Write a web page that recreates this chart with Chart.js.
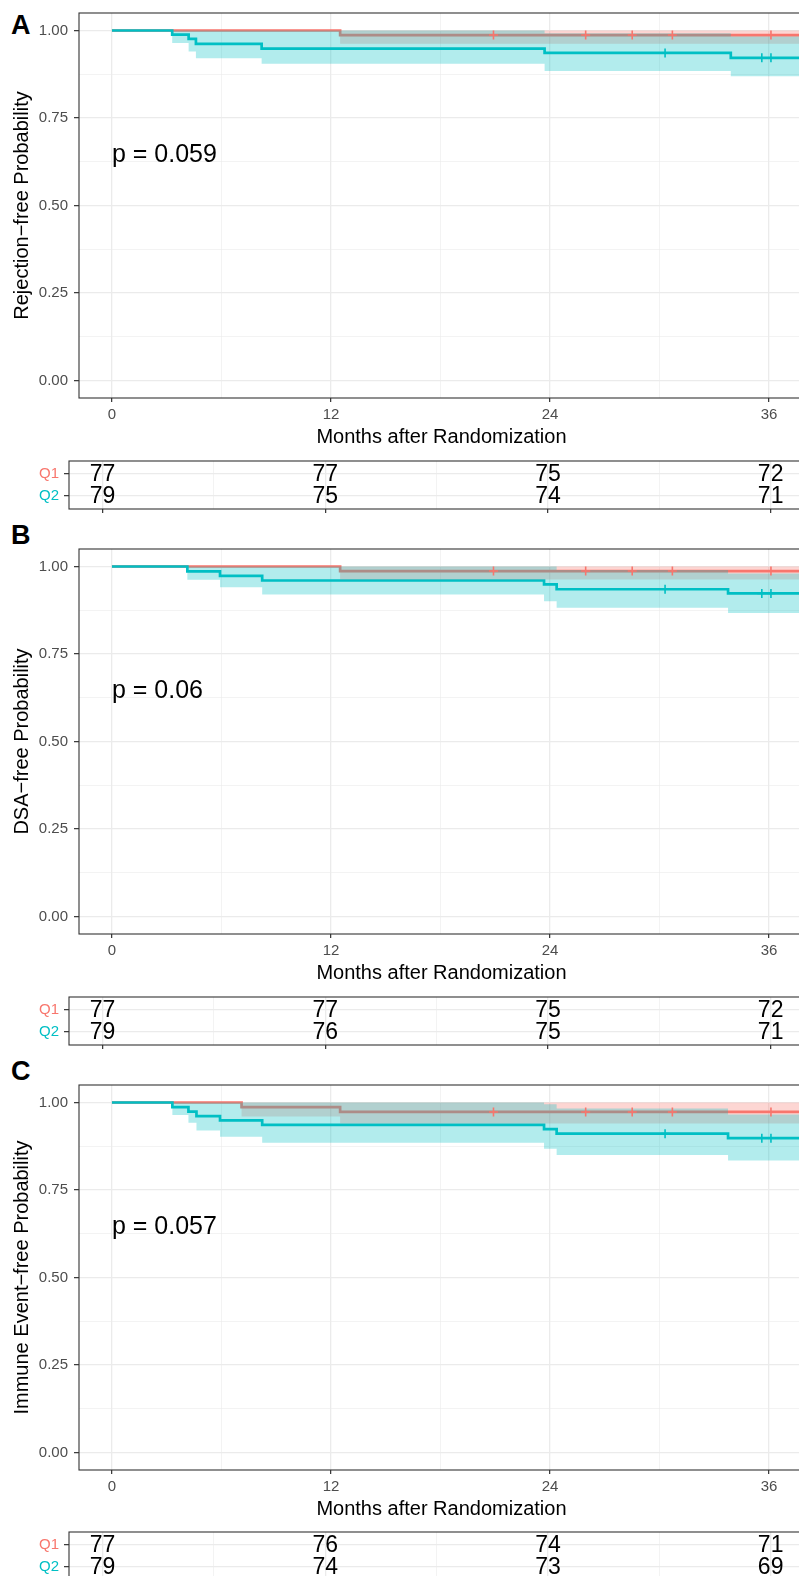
<!DOCTYPE html>
<html><head><meta charset="utf-8">
<script src="https://cdn.jsdelivr.net/npm/chart.js@4.4.1/dist/chart.umd.min.js"></script>
<style>
html,body{margin:0;padding:0;background:#fff;overflow:hidden;width:799px;height:1576px;}
.wrap{position:absolute;left:0;}
canvas{display:block;}
.lbl{position:absolute;left:11px;font:bold 27px "Liberation Sans",Arial,sans-serif;line-height:27px;color:#000;}
</style></head><body>
<div class="lbl" style="top:12px">A</div>
<div class="lbl" style="top:522px">B</div>
<div class="lbl" style="top:1058px">C</div>
<div class="wrap" style="top:-5px"><canvas id="kmA" width="810" height="457"></canvas></div>
<div class="wrap" style="top:446px"><canvas id="rtA" width="810" height="78"></canvas></div>
<div class="wrap" style="top:531px"><canvas id="kmB" width="810" height="457"></canvas></div>
<div class="wrap" style="top:982px"><canvas id="rtB" width="810" height="78"></canvas></div>
<div class="wrap" style="top:1067px"><canvas id="kmC" width="810" height="457"></canvas></div>
<div class="wrap" style="top:1517px"><canvas id="rtC" width="810" height="78"></canvas></div>
<script>
// ---------- data ----------
const groups = ['Q1', 'Q2'];
const xTitle = 'Months after Randomization';
const yTitles = ['Rejection\u2212free Probability', 'DSA\u2212free Probability', 'Immune Event\u2212free Probability'];
const pValues = ['p = 0.059', 'p = 0.06', 'p = 0.057'];
const xTicks = [0, 6, 12, 18, 24, 30, 36];
const xMajor = [0, 12, 24, 36];
const yTicks = [0, 0.125, 0.25, 0.375, 0.5, 0.625, 0.75, 0.875, 1];
const yMajor = [0, 0.25, 0.5, 0.75, 1];
const riskTimes = [0, 12, 24, 36];

// censoring times (months)
const censorQ1 = [20.9, 25.95, 28.5, 30.7, 36.1];
const censorQ2 = [30.3, 35.6, 36.1];

// Panel A (curves continue past the visible right edge)
const timeA_Q1 = [0, 12.5, 38];
const survA_Q1 = [1, 0.987, 0.987];
const lowA_Q1  = [1, 0.962, 0.962];
const uppA_Q1  = [1, 1, 1];
const timeA_Q2 = [0, 3.3, 4.2, 4.6, 8.2, 23.7, 33.9, 38];
const survA_Q2 = [1, 0.988, 0.976, 0.962, 0.948, 0.936, 0.922, 0.922];
const lowA_Q2  = [1, 0.964, 0.940, 0.921, 0.905, 0.884, 0.869, 0.869];
const uppA_Q2  = [1, 1, 1, 1, 1, 0.992, 0.983, 0.983];
const riskA_Q1 = [77, 77, 75, 72];
const riskA_Q2 = [79, 75, 74, 71];

// Panel B
const timeB_Q1 = [0, 12.5, 38];
const survB_Q1 = [1, 0.987, 0.987];
const lowB_Q1  = [1, 0.963, 0.963];
const uppB_Q1  = [1, 1, 1];
const timeB_Q2 = [0, 4.13, 5.92, 8.23, 23.67, 24.36, 33.75, 38];
const survB_Q2 = [1, 0.986, 0.973, 0.960, 0.949, 0.935, 0.923, 0.923];
const lowB_Q2  = [1, 0.962, 0.941, 0.920, 0.901, 0.882, 0.867, 0.867];
const uppB_Q2  = [1, 1, 1, 1, 1, 0.990, 0.980, 0.980];
const riskB_Q1 = [77, 77, 75, 72];
const riskB_Q2 = [79, 76, 75, 71];

// Panel C
const timeC_Q1 = [0, 7.1, 12.5, 38];
const survC_Q1 = [1, 0.987, 0.973, 0.973];
const lowC_Q1  = [1, 0.960, 0.940, 0.940];
const uppC_Q1  = [1, 1, 1, 1];
const timeC_Q2 = [0, 3.31, 4.19, 4.63, 5.92, 8.23, 23.67, 24.36, 33.75, 38];
const survC_Q2 = [1, 0.987, 0.974, 0.961, 0.949, 0.936, 0.924, 0.911, 0.898, 0.898];
const lowC_Q2  = [1, 0.964, 0.942, 0.920, 0.902, 0.885, 0.868, 0.850, 0.834, 0.834];
const uppC_Q2  = [1, 1, 1, 1, 1, 1, 0.995, 0.983, 0.966, 0.966];
const riskC_Q1 = [77, 76, 74, 71];
const riskC_Q2 = [79, 74, 73, 69];

// ---------- style ----------
const SALMON = '#F8766D', TEAL = '#00BFC4';
const SALMON_BAND = 'rgba(248,118,109,0.3)', TEAL_BAND = 'rgba(0,191,196,0.3)';
const FONT = '"Liberation Sans", Arial, Helvetica, sans-serif';
const X_MIN = -1.805, X_MAX = 37.905;
const GRID = '#ebebeb';

function pts(t, v) { return t.map((x, i) => ({x: x, y: v[i]})); }
function stepAt(t, v, x) { let y = v[0]; for (let i = 0; i < t.length; i++) { if (t[i] <= x) y = v[i]; } return y; }

const framePlugin = {
  id: 'frame',
  afterDraw(chart) {
    const a = chart.chartArea, ctx = chart.ctx;
    ctx.save(); ctx.strokeStyle = '#333'; ctx.lineWidth = 1.1;
    ctx.strokeRect(a.left, a.top, a.right - a.left, a.bottom - a.top);
    ctx.restore();
  }
};

function kmChart(id, d) {
  const c1 = censorQ1.map(t => ({x: t, y: stepAt(d.t1, d.s1, t)}));
  const c2 = censorQ2.map(t => ({x: t, y: stepAt(d.t2, d.s2, t)}));
  const line = (data, color, order) => ({type: 'line', data, borderColor: color, borderWidth: 2.7, stepped: true, pointRadius: 0, fill: false, order});
  const band = (data, fill, color, order) => ({type: 'line', data, borderColor: 'rgba(0,0,0,0)', borderWidth: 0, stepped: true, pointRadius: 0, fill: fill, backgroundColor: color, order});
  const cens = (data, color) => ({type: 'line', data, showLine: false, pointStyle: 'cross', pointRadius: 4.5, pointBorderWidth: 1.6, pointBorderColor: color, pointBackgroundColor: color, order: 1});
  new Chart(document.getElementById(id), {
    type: 'line',
    data: { datasets: [
      line(pts(d.t1, d.s1), SALMON, 9),
      line(pts(d.t2, d.s2), TEAL, 8),
      band(pts(d.t1, d.up1), '+1', SALMON_BAND, 7),
      band(pts(d.t1, d.lo1), false, SALMON_BAND, 7),
      band(pts(d.t2, d.up2), '+1', TEAL_BAND, 6),
      band(pts(d.t2, d.lo2), false, TEAL_BAND, 6),
      cens(c1, SALMON),
      cens(c2, TEAL)
    ]},
    options: {
      responsive: false, animation: false, devicePixelRatio: 1, events: [],
      layout: { padding: { top: 18, right: 4, left: 0, bottom: 0 } },
      plugins: { legend: { display: false }, tooltip: { enabled: false } },
      scales: {
        x: {
          type: 'linear', min: X_MIN, max: X_MAX,
          afterBuildTicks: s => { s.ticks = xTicks.map(v => ({value: v})); },
          afterFit: s => { s.height = 54; },
          ticks: { autoSkip: false, maxRotation: 0, padding: 4, color: '#4d4d4d', font: {family: FONT, size: 15},
                   callback: v => xMajor.includes(v) ? String(v) : '' },
          grid: { color: GRID, lineWidth: c => (c.tick && xMajor.includes(c.tick.value)) ? 1.3 : 0.6,
                  tickColor: c => (c.tick && xMajor.includes(c.tick.value)) ? '#333' : 'rgba(0,0,0,0)', tickLength: 4, tickWidth: 1.2 },
          border: { display: false },
          title: { display: true, text: xTitle, color: '#000', font: {family: FONT, size: 20}, padding: {top: 0, bottom: 3} }
        },
        y: {
          type: 'linear', min: -0.05, max: 1.05,
          afterBuildTicks: s => { s.ticks = yTicks.map(v => ({value: v})); },
          afterFit: s => { s.width = 79; },
          ticks: { autoSkip: false, padding: 6, color: '#4d4d4d', font: {family: FONT, size: 15},
                   callback: v => yMajor.includes(v) ? v.toFixed(2) : '' },
          grid: { color: GRID, lineWidth: c => (c.tick && yMajor.includes(c.tick.value)) ? 1.3 : 0.6,
                  tickColor: c => (c.tick && yMajor.includes(c.tick.value)) ? '#333' : 'rgba(0,0,0,0)', tickLength: 5, tickWidth: 1.2 },
          border: { display: false },
          title: { display: true, text: d.title, color: '#000', font: {family: FONT, size: 20}, padding: {top: 10, bottom: 0} }
        }
      }
    },
    plugins: [framePlugin, {
      id: 'pval',
      afterDatasetsDraw(chart) {
        const ctx = chart.ctx;
        ctx.save(); ctx.fillStyle = '#000'; ctx.font = '25px ' + FONT; ctx.textAlign = 'left'; ctx.textBaseline = 'middle';
        ctx.fillText(d.p, chart.scales.x.getPixelForValue(0), chart.scales.y.getPixelForValue(0.645));
        ctx.restore();
      }
    }]
  });
}

function riskChart(id, r1, r2) {
  const rows = [2, 1];
  new Chart(document.getElementById(id), {
    type: 'line',
    data: { datasets: [
      {data: riskTimes.map((t, i) => ({x: t, y: rows[0], n: r1[i]})), showLine: false, pointRadius: 0},
      {data: riskTimes.map((t, i) => ({x: t, y: rows[1], n: r2[i]})), showLine: false, pointRadius: 0}
    ]},
    options: {
      responsive: false, animation: false, devicePixelRatio: 1, events: [],
      layout: { padding: { top: 15, right: 4, left: 0, bottom: 0 } },
      plugins: { legend: { display: false }, tooltip: { enabled: false } },
      scales: {
        x: {
          type: 'linear', min: X_MIN, max: X_MAX,
          afterBuildTicks: s => { s.ticks = xTicks.map(v => ({value: v})); },
          afterFit: s => { s.height = 15; },
          ticks: { display: false },
          grid: { color: GRID, lineWidth: c => (c.tick && xMajor.includes(c.tick.value)) ? 1.3 : 0.6,
                  tickColor: c => (c.tick && xMajor.includes(c.tick.value)) ? '#333' : 'rgba(0,0,0,0)', tickLength: 4, tickWidth: 1.2 },
          border: { display: false }
        },
        y: {
          type: 'linear', min: 0.4, max: 2.6,
          afterBuildTicks: s => { s.ticks = rows.map(v => ({value: v})); },
          afterFit: s => { s.width = 69; },
          ticks: { autoSkip: false, padding: 5, font: {family: FONT, size: 15},
                   color: c => (c.tick && c.tick.value === rows[0]) ? SALMON : TEAL,
                   callback: v => groups[rows.indexOf(v)] },
          grid: { color: GRID, lineWidth: 1.3, tickColor: '#333', tickLength: 5, tickWidth: 1.2 },
          border: { display: false }
        }
      }
    },
    plugins: [framePlugin, {
      id: 'risklabels',
      afterDatasetsDraw(chart) {
        const ctx = chart.ctx;
        ctx.save(); ctx.fillStyle = '#000'; ctx.font = '23px ' + FONT; ctx.textAlign = 'center'; ctx.textBaseline = 'middle';
        chart.data.datasets.forEach((ds, di) => {
          chart.getDatasetMeta(di).data.forEach((el, i) => { ctx.fillText(String(ds.data[i].n), el.x, el.y + 1); });
        });
        ctx.restore();
      }
    }]
  });
}

kmChart('kmA', {t1: timeA_Q1, s1: survA_Q1, lo1: lowA_Q1, up1: uppA_Q1, t2: timeA_Q2, s2: survA_Q2, lo2: lowA_Q2, up2: uppA_Q2, title: yTitles[0], p: pValues[0]});
kmChart('kmB', {t1: timeB_Q1, s1: survB_Q1, lo1: lowB_Q1, up1: uppB_Q1, t2: timeB_Q2, s2: survB_Q2, lo2: lowB_Q2, up2: uppB_Q2, title: yTitles[1], p: pValues[1]});
kmChart('kmC', {t1: timeC_Q1, s1: survC_Q1, lo1: lowC_Q1, up1: uppC_Q1, t2: timeC_Q2, s2: survC_Q2, lo2: lowC_Q2, up2: uppC_Q2, title: yTitles[2], p: pValues[2]});
riskChart('rtA', riskA_Q1, riskA_Q2);
riskChart('rtB', riskB_Q1, riskB_Q2);
riskChart('rtC', riskC_Q1, riskC_Q2);
</script>
</body></html>
